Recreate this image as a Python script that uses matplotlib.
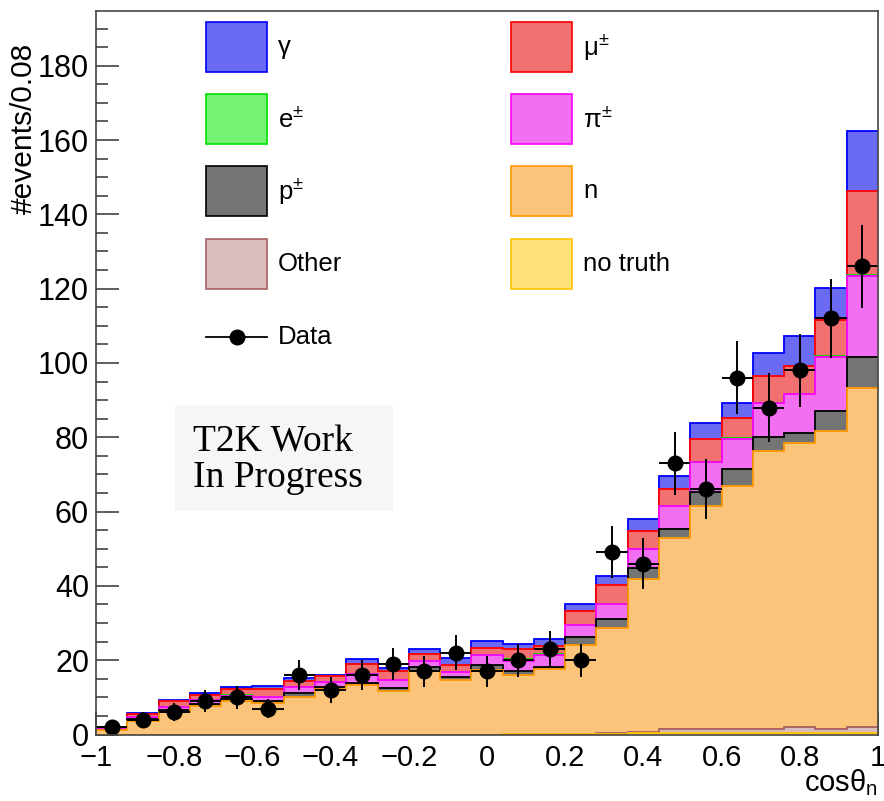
import numpy as np
import matplotlib.pyplot as plt
from matplotlib.patches import Rectangle
from matplotlib.lines import Line2D
from matplotlib.ticker import MultipleLocator

plt.rcParams['font.family'] = ['Liberation Sans', 'DejaVu Sans']
plt.rcParams['mathtext.default'] = 'regular'

# binning: 25 bins of 0.08 in cos(theta_n)
edges = np.linspace(-1, 1, 26)

# per-species contributions, bottom of the stack first
notruth = [0, 0, 0, 0, 0, 0, 0, 0, 0, 0, 0, 0, 0,
           0.2, 0.2, 0.2, 0.2, 0.3, 0.3, 0.3, 0.3, 0.3, 0.3, 0.3, 0.3]
other = [0, 0, 0, 0, 0, 0, 0, 0, 0, 0, 0, 0, 0, 0, 0, 0,
         0.2, 0.5, 1.1, 1.1, 1.2, 1.2, 1.7, 1.1, 1.8]
neutron = [1.2, 3.7, 6.1, 7.7, 8.9, 8.4, 10.2, 12.2, 13.3, 11.7, 17.1, 14.7, 17.4,
           15.9, 17.3, 23.8, 28.4, 41.1, 51.6, 60.2, 65.5, 74.9, 76.4, 80.2, 91.1]
proton = [0.1, 0.5, 0.5, 0.4, 0.6, 0.7, 0.9, 0.7, 0.6, 0.7, 1.1, 0.7, 1.3,
          1.0, 0.7, 2.3, 2.3, 2.9, 2.4, 3.6, 4.5, 3.8, 2.7, 5.6, 8.5]
pion = [0.2, 0.4, 0.9, 1.2, 0.9, 1.1, 1.6, 1.3, 2.3, 2.3, 1.6, 1.5, 2.7,
        2.8, 3.3, 3.2, 4.0, 5.2, 6.1, 8.1, 8.1, 8.9, 10.6, 14.4, 21.7]
electron = [0, 0, 0, 0, 0.3, 0, 0, 0, 0, 0, 0, 0, 0,
            0.3, 0.3, 0, 0, 0, 0, 0, 0.2, 0, 0, 0.2, 0.4]
muon = [0.4, 0.8, 1.4, 1.4, 1.6, 2.1, 1.8, 1.6, 2.8, 2.5, 2.0, 1.8, 1.9,
        2.9, 2.0, 3.7, 5.2, 4.7, 4.7, 6.3, 5.4, 7.5, 7.6, 9.8, 22.4]
gamma = [0.2, 0.3, 0.4, 0.4, 0.4, 0.7, 0.6, 0.3, 1.3, 0.8, 1.1, 1.9, 1.9,
         1.2, 1.8, 1.9, 2.4, 3.3, 3.3, 4.2, 3.9, 6.1, 8.0, 8.6, 16.1]

data = [2, 4, 6, 9, 10, 7, 16, 12, 16, 19, 17, 22, 17,
        20, 23, 20, 49, 46, 73, 66, 96, 88, 98, 112, 126]

xticks = [-1, -0.8, -0.6, -0.4, -0.2, 0, 0.2, 0.4, 0.6, 0.8, 1]
xtick_labels = ['\u22121', '\u22120.8', '\u22120.6', '\u22120.4', '\u22120.2', '0',
                '0.2', '0.4', '0.6', '0.8', '1']
yticks = [0, 20, 40, 60, 80, 100, 120, 140, 160, 180]

stack = [notruth, other, neutron, proton, pion, electron, muon, gamma]
names = ['no truth', 'Other', 'n', 'p$^{\u00b1}$', '\u03c0$^{\u00b1}$',
         'e$^{\u00b1}$', '\u03bc$^{\u00b1}$', '\u03b3']
faces = ['#ffe07a', '#dbbcbc', '#fbc47a', '#747474', '#f26ff2',
         '#74f274', '#f27070', '#6a6af2']
lines = ['#ffc400', '#a86060', '#ff9800', '#000000', '#ff00ff',
         '#00e000', '#ff0000', '#0000ff']

fig = plt.figure(figsize=(8.84, 8.01), dpi=100)
ax = fig.add_axes([0.1086, 0.0830, 0.8846, 0.9036])

cum = np.cumsum(np.array(stack), axis=0)
# ROOT draws the stack from the total downwards
z = 1
for i in range(len(stack) - 1, -1, -1):
    ax.stairs(cum[i], edges, baseline=0, fill=True, color=faces[i], lw=0, zorder=z)
    ax.stairs(cum[i], edges, baseline=None, color=lines[i], lw=1.3, zorder=z + 0.5)
    z += 1

centers = 0.5 * (edges[:-1] + edges[1:])
ax.errorbar(centers, data, xerr=0.04, yerr=np.sqrt(data), fmt='o', color='black',
            ms=10.5, elinewidth=1.4, capsize=0, zorder=50)

ax.set_xlim(-1, 1)
ax.set_ylim(0, 194.8)
ax.set_xticks(xticks)
ax.set_xticklabels(xtick_labels)
ax.set_yticks(yticks)
ax.xaxis.set_minor_locator(MultipleLocator(0.05))
ax.yaxis.set_minor_locator(MultipleLocator(5))
ax.tick_params(which='both', direction='in', top=False, right=False,
               color='#333333', width=1.1)
ax.tick_params(axis='y', labelsize=22, pad=5)
ax.tick_params(axis='x', labelsize=21, pad=7)
ax.tick_params(which='major', length=16.5)
ax.tick_params(which='minor', length=8.3)
for s in ax.spines.values():
    s.set_color('#444444')
    s.set_linewidth(1.2)
    s.set_zorder(60)

ax.set_xlabel('cos\u03b8$_{n}$', fontsize=21)
ax.xaxis.set_label_coords(1.0, -0.079)
ax.xaxis.label.set_ha('right')
ax.xaxis.label.set_va('baseline')
ax.set_ylabel('#events/0.08', fontsize=21.5)
ax.yaxis.set_label_coords(-0.092, 0.955)
ax.yaxis.label.set_rotation_mode('anchor')
ax.yaxis.label.set_ha('right')
ax.yaxis.label.set_va('center')

# legend, two columns filled row by row, as in the ROOT canvas
order = [7, 6, 5, 4, 3, 2, 1, 0]
row_top = [0.9844, 0.8849, 0.7854, 0.6846]
box_x = [0.1407, 0.5307]
text_x = [0.2327, 0.6228]
bw, bh = 0.078, 0.0691
for k, idx in enumerate(order):
    r, c = k // 2, k % 2
    ax.add_patch(Rectangle((box_x[c], row_top[r] - bh), bw, bh, transform=ax.transAxes,
                           facecolor=faces[idx], edgecolor=lines[idx], lw=1.2,
                           clip_on=False, zorder=70))
    ax.text(text_x[c], row_top[r] - bh / 2, names[idx], transform=ax.transAxes,
            fontsize=18.5, va='center', ha='left', zorder=70)
ax.add_line(Line2D([box_x[0], box_x[0] + bw], [0.5492, 0.5492], transform=ax.transAxes,
                   color='black', lw=1.3, zorder=70))
ax.plot([box_x[0] + bw / 2], [0.5492], 'o', color='black', ms=10.5,
        transform=ax.transAxes, zorder=71)
ax.text(text_x[0], 0.5492, 'Data', transform=ax.transAxes, fontsize=18.5,
        va='center', ha='left', zorder=70)

# T2K label
ax.add_patch(Rectangle((0.1010, 0.3088), 0.2788, 0.1464, transform=ax.transAxes,
                       facecolor='#f6f6f6', edgecolor='none', zorder=65))
ax.text(0.1240, 0.3917, 'T2K Work', transform=ax.transAxes, fontsize=27,
        family='Liberation Serif', va='baseline', ha='left', zorder=66)
ax.text(0.1240, 0.3419, 'In Progress', transform=ax.transAxes, fontsize=27,
        family='Liberation Serif', va='baseline', ha='left', zorder=66)

fig.savefig('out.png', dpi=100)
